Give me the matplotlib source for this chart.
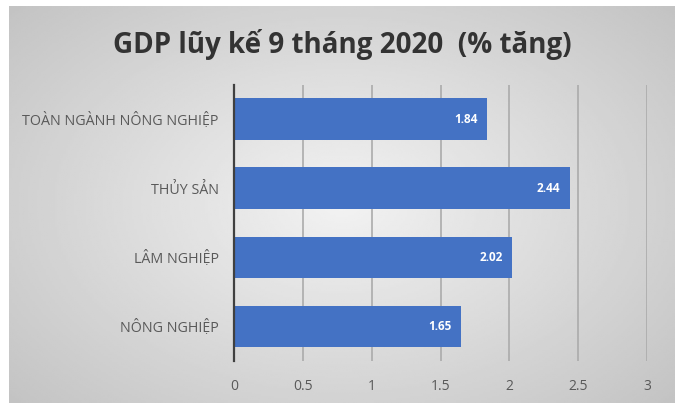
import numpy as np
import matplotlib.pyplot as plt

# data
categories = ['NÔNG NGHIỆP', 'LÂM NGHIỆP', 'THỦY SẢN', 'TOÀN NGÀNH NÔNG NGHIỆP']
values = [1.65, 2.02, 2.44, 1.84]
ticks = [0, 0.5, 1, 1.5, 2, 2.5, 3]
tick_labels = ['0', '0.5', '1', '1.5', '2', '2.5', '3']
title = 'GDP lũy kế 9 tháng 2020  (% tăng)'

plt.rcParams['font.family'] = ['Open Sans', 'DejaVu Sans']

fig = plt.figure(figsize=(6.75, 4.03), dpi=100)
fig.patch.set_facecolor('white')

# grey background with lighter centre
bg = fig.add_axes([9 / 675, 0, 1 - 9 / 675, 1 - 6 / 403])
yy, xx = np.mgrid[-1:1:200j, -1:1:300j]
r = np.sqrt((xx / 1.1) ** 2 + (yy / 1.2) ** 2)
shade = 0.95 - 0.15 * np.clip(r, 0, 1.3)
bg.imshow(shade, cmap='gray', vmin=0, vmax=1, aspect='auto', extent=[0, 1, 0, 1])
bg.set_axis_off()

ax = fig.add_axes([234 / 675, 1 - 361 / 403, 413 / 675, 276.5 / 403])
ax.set_facecolor('none')
y = np.arange(len(categories))
bars = ax.barh(y, values, height=0.6, color='#4472C4', zorder=3)
for b, v in zip(bars, values):
    ax.text(v - 0.07, b.get_y() + b.get_height() / 2, f'{v:.2f}', ha='right', va='center',
            color='white', fontsize=8.5, fontweight='bold', zorder=4)

ax.set_xlim(0, 3)
ax.set_ylim(-0.5, len(categories) - 0.5)
ax.set_yticks(y)
ax.set_yticklabels(categories, fontsize=10.3, color='#595959')
ax.set_xticks(ticks)
ax.set_xticklabels(tick_labels, fontsize=10, color='#595959')
ax.tick_params(axis='both', length=0)
ax.tick_params(axis='x', pad=13)
ax.tick_params(axis='y', pad=11)
ax.xaxis.grid(True, color='#ababab', linewidth=1.2, zorder=0)
for s in ['top', 'right', 'bottom']:
    ax.spines[s].set_visible(False)
ax.spines['left'].set_color('#404040')
ax.spines['left'].set_linewidth(1.6)
ax.spines['left'].set_zorder(5)

fig.text(342 / 675, 1 - 45 / 403, title, ha='center', va='center', fontsize=20,
         fontweight='bold', color='#333333')

fig.savefig('out.png', dpi=100)
